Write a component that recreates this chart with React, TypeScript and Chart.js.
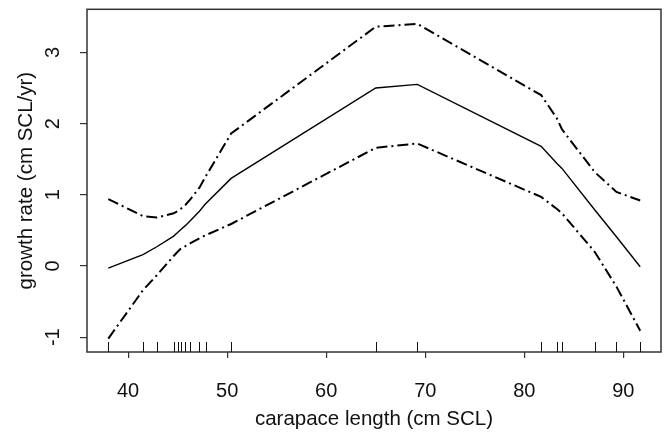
import React, { useEffect, useRef } from "react";
import { Chart, registerables } from "chart.js";

Chart.register(...registerables);

const lengths = [38.0, 41.5, 42.9, 44.6, 45.0, 45.3, 45.8, 46.3, 47.2, 47.8, 50.4, 65.0, 69.2, 81.7, 83.3, 83.8, 87.1, 89.3, 91.7];
const fitted = [-0.03, 0.16, 0.27, 0.42, 0.47, 0.51, 0.57, 0.64, 0.77, 0.87, 1.23, 2.5, 2.55, 1.68, 1.44, 1.37, 0.79, 0.41, -0.01];
const upper = [0.94, 0.7, 0.68, 0.74, 0.77, 0.8, 0.86, 0.94, 1.1, 1.25, 1.86, 3.36, 3.4, 2.4, 2.07, 1.92, 1.32, 1.04, 0.92];
const lower = [-1.02, -0.34, -0.13, 0.14, 0.2, 0.24, 0.28, 0.32, 0.39, 0.43, 0.59, 1.66, 1.72, 0.97, 0.8, 0.74, 0.2, -0.29, -0.91];
const rugValues = [38.0, 41.47, 42.88, 44.64, 45.0, 45.34, 45.75, 46.25, 47.16, 47.82, 50.38, 65.0, 69.16, 81.69, 83.3, 83.78, 87.14, 89.25, 91.67];
const xTicks = [40, 50, 60, 70, 80, 90];
const yTicks = [-1, 0, 1, 2, 3];
const xTitle = "carapace length (cm SCL)";
const yTitle = "growth rate (cm SCL/yr)";

const FONT = "'Liberation Sans', Arial, Helvetica, sans-serif";

const framePlugin = {
  id: "frameAndRug",
  afterDraw(chart: any) {
    const { ctx, chartArea, scales } = chart;
    ctx.save();
    ctx.strokeStyle = "#333";
    ctx.lineWidth = 1.5;
    ctx.strokeRect(chartArea.left, chartArea.top, chartArea.right - chartArea.left, chartArea.bottom - chartArea.top);
    ctx.strokeStyle = "#111";
    ctx.lineWidth = 1;
    for (const v of rugValues) {
      const px = Math.round(scales.x.getPixelForValue(v)) + 0.5;
      ctx.beginPath();
      ctx.moveTo(px, chartArea.bottom);
      ctx.lineTo(px, chartArea.bottom - 10);
      ctx.stroke();
    }
    ctx.restore();
  },
};

export default function App() {
  const ref = useRef<HTMLCanvasElement | null>(null);
  useEffect(() => {
    if (!ref.current) return;
    const mk = (ys: number[]) => lengths.map((x, i) => ({ x, y: ys[i] }));
    const chart = new Chart(ref.current, {
      type: "line",
      data: {
        datasets: [
          { data: mk(upper), borderColor: "#000", borderWidth: 2, borderDash: [11, 4, 2, 4], pointRadius: 0, tension: 0, fill: false },
          { data: mk(fitted), borderColor: "#000", borderWidth: 1.4, pointRadius: 0, tension: 0, fill: false },
          { data: mk(lower), borderColor: "#000", borderWidth: 2, borderDash: [11, 4, 2, 4], pointRadius: 0, tension: 0, fill: false },
        ],
      },
      options: {
        responsive: false,
        animation: false,
        events: [],
        layout: { padding: { top: 9.3, right: 3, left: 0, bottom: 0 } },
        plugins: { legend: { display: false }, tooltip: { enabled: false } },
        scales: {
          x: {
            type: "linear",
            min: 35.85,
            max: 93.8,
            afterBuildTicks: (s: any) => { s.ticks = xTicks.map((v) => ({ value: v })); },
            afterFit: (s: any) => { s.height = 80; s.paddingLeft = 0; s.paddingRight = 0; },
            grid: { drawOnChartArea: false, drawTicks: true, tickLength: 6, color: "#333", lineWidth: 1.2 },
            border: { display: false },
            ticks: { color: "#111", font: { family: FONT, size: 20 }, padding: 21, maxRotation: 0 },
            title: { display: true, text: xTitle, color: "#111", font: { family: FONT, size: 20.5 }, padding: { top: 0, bottom: 0 } },
          },
          y: {
            type: "linear",
            min: -1.208,
            max: 3.605,
            afterBuildTicks: (s: any) => { s.ticks = yTicks.map((v) => ({ value: v })); },
            afterFit: (s: any) => { s.width = 87; s.paddingTop = 0; s.paddingBottom = 0; },
            grid: { drawOnChartArea: false, drawTicks: true, tickLength: 7, color: "#333", lineWidth: 1.2 },
            border: { display: false },
            ticks: { color: "#111", font: { family: FONT, size: 20 }, padding: 18, minRotation: 90, maxRotation: 90, crossAlign: "center" },
            title: { display: true, text: yTitle, color: "#111", font: { family: FONT, size: 20.5 }, padding: { top: 14, bottom: 0 } },
          },
        },
      },
      plugins: [framePlugin],
    } as any);
    return () => chart.destroy();
  }, []);
  return (
    <div style={{ position: "absolute", left: 0, top: 0, width: 664, height: 432, background: "#fff" }}>
      <canvas ref={ref} width={664} height={432} style={{ width: 664, height: 432, display: "block" }} />
    </div>
  );
}
